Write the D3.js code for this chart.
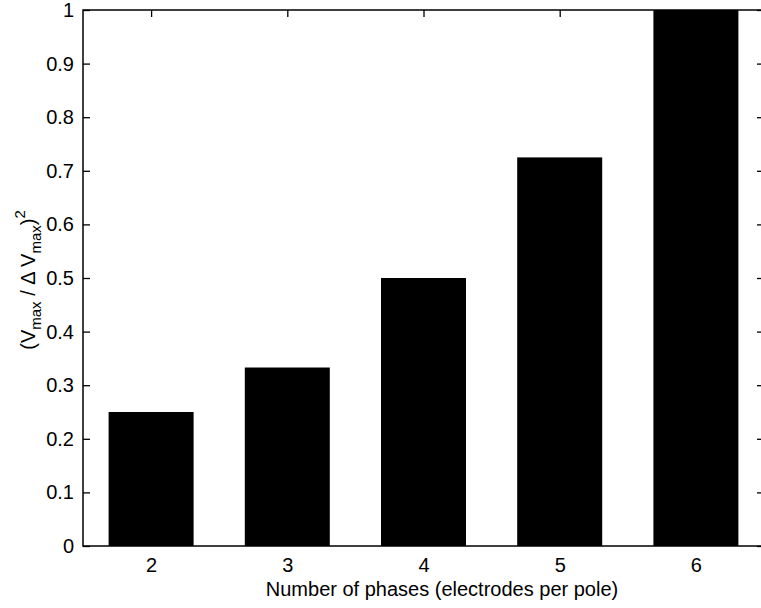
<!DOCTYPE html>
<html>
<head>
<meta charset="utf-8">
<script src="https://cdn.jsdelivr.net/npm/d3@7"></script>
<style>
  body { margin: 0; background: #fff; }
  svg { display: block; font-family: "Liberation Sans", Arial, Helvetica, sans-serif; }
</style>
</head>
<body>
<svg id="main_chart" width="761" height="608"></svg>
<script>
// bar data: number of phases vs (Vmax / dVmax)^2
const phases = [2, 3, 4, 5, 6];
const ratio = [0.25, 0.333, 0.5, 0.725, 1.0];
const yTicks = [0, 0.1, 0.2, 0.3, 0.4, 0.5, 0.6, 0.7, 0.8, 0.9, 1];

const plotL = 83, plotR = 764, plotT = 10, plotB = 546;
const svg = d3.select("#main_chart");

let xScale = d3.scaleLinear().domain([1.5, 6.5]).range([plotL, plotR]);
let yScale = d3.scaleLinear().domain([0, 1]).range([plotB, plotT]);
const barW = 85;

let data = phases.map((p, i) => ({ p: p, v: ratio[i] }));

svg.append("g").selectAll("rect")
    .data(data)
    .enter().append("rect")
    .attr("x", d => xScale(d.p) - barW / 2)
    .attr("y", d => yScale(d.v))
    .attr("width", barW)
    .attr("height", d => yScale(0) - yScale(d.v))
    .attr("fill", "#000");

// axes, ticks pointing inward like matlab
let styleAxis = g => {
    g.select(".domain").remove();
    g.selectAll(".tick line").attr("stroke", "#000").attr("stroke-width", 1.3);
    g.selectAll(".tick text").attr("fill", "#000").style("font-size", "20px");
};

svg.append("g")
    .attr("transform", "translate(0," + plotB + ")")
    .call(d3.axisBottom(xScale).tickValues(phases).tickSizeInner(-7).tickSizeOuter(0).tickPadding(12).tickFormat(d3.format("d")))
    .call(styleAxis);

svg.append("g")
    .attr("transform", "translate(0," + plotT + ")")
    .call(d3.axisTop(xScale).tickValues(phases).tickSizeInner(-7).tickSizeOuter(0).tickFormat(""))
    .call(styleAxis);

svg.append("g")
    .attr("transform", "translate(" + plotL + ",0)")
    .call(d3.axisLeft(yScale).tickValues(yTicks).tickSizeInner(-7).tickSizeOuter(0).tickPadding(9).tickFormat(d3.format("~g")))
    .call(styleAxis);

svg.append("g")
    .attr("transform", "translate(" + plotR + ",0)")
    .call(d3.axisRight(yScale).tickValues(yTicks).tickSizeInner(-7).tickSizeOuter(0).tickFormat(""))
    .call(styleAxis);

svg.append("rect")
    .attr("x", plotL).attr("y", plotT)
    .attr("width", plotR - plotL).attr("height", plotB - plotT)
    .attr("fill", "none").attr("stroke", "#000").attr("stroke-width", 1.5);

// labels
svg.append("text")
    .attr("x", 442).attr("y", 596)
    .attr("text-anchor", "middle")
    .style("font-size", "20px")
    .text("Number of phases (electrodes per pole)");

let yl = svg.append("text")
    .attr("transform", "translate(35,280) rotate(-90)")
    .attr("text-anchor", "middle")
    .style("font-size", "20px");
yl.append("tspan").text("(V");
yl.append("tspan").attr("dy", 6).style("font-size", "15px").text("max");
yl.append("tspan").attr("dy", -6).text(" / \u0394 V");
yl.append("tspan").attr("dy", 6).style("font-size", "15px").text("max");
yl.append("tspan").attr("dy", -6).text(")");
yl.append("tspan").attr("dy", -10).style("font-size", "15px").text("2");
</script>
</body>
</html>
